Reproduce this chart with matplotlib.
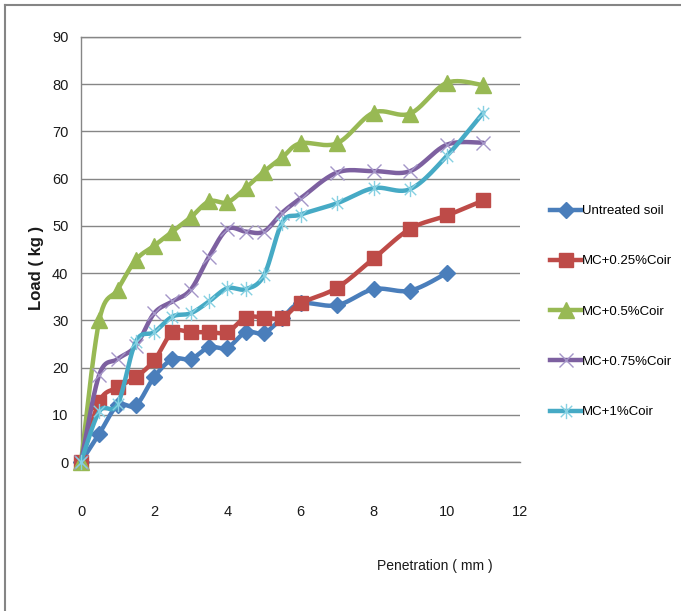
import numpy as np
import matplotlib
matplotlib.use("Agg")
import matplotlib.pyplot as plt
from matplotlib.lines import Line2D
from matplotlib.path import Path
from matplotlib import font_manager as fm

# ---------------- data ----------------
penetration = [0, 0.5, 1, 1.5, 2, 2.5, 3, 3.5, 4, 4.5, 5, 5.5, 6, 7, 8, 9, 10, 11]
untreated = [0, 6, 12, 12, 18, 21.8, 21.8, 24.3, 24.2, 27.5, 27.3, 30.5, 33.6, 33.2, 36.6, 36.3, 40]
mc_025 = [0, 12.8, 15.8, 18, 21.5, 27.5, 27.5, 27.5, 27.5, 30.6, 30.6, 30.5, 33.6, 36.9, 43.1, 49.4, 52.2, 55.4]
mc_05 = [0, 30, 36.5, 42.8, 45.8, 48.8, 51.8, 55.2, 55, 58, 61.5, 64.5, 67.5, 67.5, 74, 73.8, 80.3, 79.8]
mc_075 = [0, 18.5, 21.8, 24.6, 31.5, 34, 36.5, 43.5, 49.3, 48.8, 48.8, 52.8, 55.8, 61.3, 61.6, 61.6, 67.2, 67.6]
mc_1 = [0, 10.7, 12.2, 25.5, 27.5, 30.8, 31.5, 34, 36.8, 36.6, 39.5, 50.7, 52.4, 54.8, 58, 57.8, 64.8, 74]
labels = ["Untreated soil", "MC+0.25%Coir", "MC+0.5%Coir", "MC+0.75%Coir", "MC+1%Coir"]
xticks = [0, 2, 4, 6, 8, 10, 12]
yticks = [0, 10, 20, 30, 40, 50, 60, 70, 80, 90]


def has_font(name):
    try:
        fm.findfont(fm.FontProperties(family=name), fallback_to_default=False)
        return True
    except Exception:
        return False


cands = ["Liberation Sans Narrow", "Liberation Sans", "DejaVu Sans"]
base = next(f for f in cands if has_font(f) or f == "DejaVu Sans")
plt.rcParams["font.family"] = [base, "DejaVu Sans"]


def smooth(xs, ys, n=24):
    P = np.column_stack([xs, ys]).astype(float)
    ext = np.vstack([P[0], P, P[-1]])
    out = []
    t = np.linspace(0, 1, n)[:, None]
    for i in range(len(P) - 1):
        p0, p1, p2, p3 = ext[i], ext[i + 1], ext[i + 2], ext[i + 3]
        c1 = p1 + (p2 - p0) / 6.0
        c2 = p2 - (p3 - p1) / 6.0
        seg = ((1 - t) ** 3) * p1 + 3 * ((1 - t) ** 2) * t * c1 + 3 * (1 - t) * t ** 2 * c2 + t ** 3 * p2
        out.append(seg if i == 0 else seg[1:])
    return np.vstack(out)


# asterisk-like star marker (x plus vertical bar)
star = Path([(0, -1), (0, 1), (-0.75, -0.75), (0.75, 0.75), (-0.75, 0.75), (0.75, -0.75)],
            [Path.MOVETO, Path.LINETO, Path.MOVETO, Path.LINETO, Path.MOVETO, Path.LINETO])

W, H = 681, 611
fig = plt.figure(figsize=(W / 100, H / 100), dpi=100)
ax = fig.add_axes([81 / W, 1 - 462 / H, (520 - 81) / W, (462 - 37) / H])

series = [
    (untreated, "#4A7EBB", "D", 8, "#4A7EBB", 1.0),
    (mc_025, "#BE4B48", "s", 10, "#BE4B48", 1.0),
    (mc_05, "#98B954", "^", 11, "#98B954", 1.0),
    (mc_075, "#7D60A0", "x", 10, "#A496C8", 1.0),
    (mc_1, "#46AAC5", star, 11, "#85D0E2", 1.0),
]

handles = []
for k, (ys, col, mk, ms, mcol, mew) in enumerate(series):
    xs = penetration[:len(ys)]
    curve = smooth(xs, ys)
    z = 3 + k
    ax.plot(curve[:, 0], curve[:, 1], color=col, lw=3.2, solid_capstyle="round",
            zorder=z, clip_on=False)
    ax.plot(xs, ys, linestyle="none", marker=mk, markersize=ms, color=mcol,
            markerfacecolor=mcol, markeredgecolor=mcol, markeredgewidth=mew,
            zorder=z + 0.5, clip_on=False)
    handles.append(Line2D([0], [0], color=col, lw=3.2, marker=mk, markersize=ms,
                          markerfacecolor=mcol, markeredgecolor=mcol, markeredgewidth=mew))

ax.set_xlim(0, 12)
ax.set_ylim(0, 90)
ax.set_xticks(xticks)
ax.set_yticks(yticks)
ax.set_xticklabels([str(v) for v in xticks])
ax.set_yticklabels([str(v) for v in yticks])
ax.tick_params(axis="both", length=0, labelsize=10.5, colors="#1a1a1a")
ax.tick_params(axis="x", pad=31)
ax.tick_params(axis="y", pad=9)
ax.grid(axis="y", color="#868686", lw=1.0)
ax.set_axisbelow(True)
ax.spines["right"].set_visible(False)
for s in ["left", "top", "bottom"]:
    ax.spines[s].set_color("#868686")
    ax.spines[s].set_linewidth(1.0)
    ax.spines[s].set_zorder(1)

leg = ax.legend(handles, labels, loc="upper left", bbox_to_anchor=(550 / W, 1 - 205 / H),
                bbox_transform=fig.transFigure, frameon=False, fontsize=9.5,
                borderpad=0, borderaxespad=0, labelspacing=2.88, handlelength=2.35,
                handletextpad=0.1, numpoints=1)

fig.text(37 / W, 1 - 268 / H, "Load ( kg )", rotation=90, ha="center", va="center",
         fontsize=12, fontweight="bold", color="#1a1a1a")
fig.text(435 / W, 1 - 566 / H, "Penetration ( mm )", ha="center", va="center",
         fontsize=10, color="#1a1a1a")

# outer border (top and left)
fig.add_artist(Line2D([5 / W, 1], [1 - 5 / H, 1 - 5 / H], transform=fig.transFigure,
                      color="#858585", lw=1.5))
fig.add_artist(Line2D([5 / W, 5 / W], [0, 1 - 5 / H], transform=fig.transFigure,
                      color="#858585", lw=1.5))

fig.savefig("out.png", dpi=100)
